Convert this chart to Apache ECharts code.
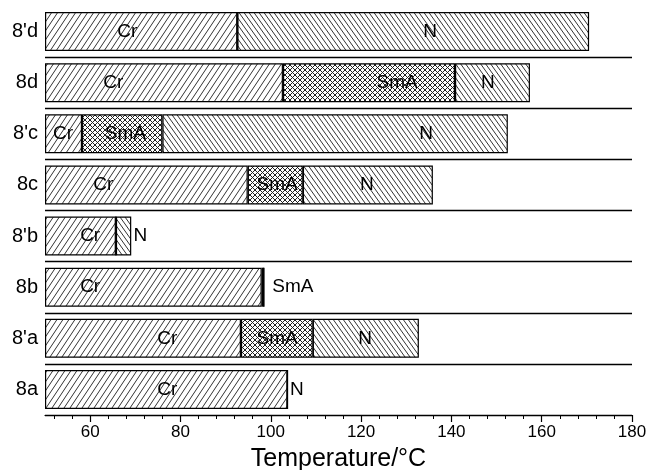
<!DOCTYPE html>
<html>
<head>
<meta charset="utf-8">
<script src="https://cdn.jsdelivr.net/npm/echarts@6/dist/echarts.min.js"></script>
<style>html,body{margin:0;padding:0;background:#fff}#c{width:647px;height:470px}</style>
</head>
<body>
<div id="c"></div>
<script>
// ---- data (bottom to top) ----
var categories = ["8a", "8'a", "8b", "8'b", "8c", "8'c", "8d", "8'd"];
var startTemp = 50;
var crEnd  = [103.7, 93.4, 98.0, 65.7, 94.9, 58.2, 102.7, 92.6];
var smaEnd = [null, 109.3, 98.5, null, 107.1, 76.0, 140.8, null];
var nEnd   = [null, 132.8, null, 69.1, 135.9, 152.5, 157.4, 170.5];
var xTicks = [60, 80, 100, 120, 140, 160, 180];
var xMinorTicks = [52, 56, 64, 68, 72, 76, 84, 88, 92, 96, 104, 108, 112, 116,
                   124, 128, 132, 136, 144, 148, 152, 156, 164, 168, 172, 176];
// phase labels: [temperature, category, text]
var phaseLabels = [
  [68.2, "8'd", "Cr"], [135.3, "8'd", "N"],
  [65.1, "8d", "Cr"], [128.0, "8d", "SmA"], [148.1, "8d", "N"],
  [54.0, "8'c", "Cr"], [67.8, "8'c", "SmA"], [134.4, "8'c", "N"],
  [62.9, "8c", "Cr"], [101.4, "8c", "SmA"], [121.3, "8c", "N"],
  [60.0, "8'b", "Cr"], [71.1, "8'b", "N"],
  [60.0, "8b", "Cr"], [104.9, "8b", "SmA"],
  [77.1, "8'a", "Cr"], [101.4, "8'a", "SmA"], [120.9, "8'a", "N"],
  [77.1, "8a", "Cr"], [105.8, "8a", "N"]
];

// ---- derived segment widths ----
var baseVals = categories.map(function(){ return startTemp; });
var crVals = crEnd.map(function(v){ return v - startTemp; });
var smaVals = smaEnd.map(function(v, i){ return v == null ? 0 : v - crEnd[i]; });
var nVals = nEnd.map(function(v, i){
  if (v == null) return 0;
  var prev = smaEnd[i] != null ? smaEnd[i] : crEnd[i];
  return v - prev;
});

// ---- hatch patterns ----
function hatch(w, h, dirs, color, lw) {
  var c = document.createElement('canvas');
  c.width = w; c.height = h;
  var g = c.getContext('2d');
  g.fillStyle = '#fff'; g.fillRect(0, 0, w, h);
  g.strokeStyle = color; g.lineWidth = lw;
  dirs.forEach(function(d){
    for (var k = -1; k <= 1; k++) {
      g.beginPath();
      if (d === '/') { g.moveTo(k * w, h); g.lineTo(k * w + w, 0); }
      else { g.moveTo(k * w, 0); g.lineTo(k * w + w, h); }
      g.stroke();
    }
  });
  return { image: c, repeat: 'repeat' };
}
var crPat = hatch(6, 9, ['/'], '#333', 1);
var nPat = hatch(5, 7, ['\\'], '#333', 1);
var smaPat = hatch(5, 5, ['/', '\\'], '#222', 1);

var font = '"Liberation Sans", Arial, Helvetica, sans-serif';
var barW = 39;
var border = { borderColor: '#000', borderWidth: 1.2 };

var chart = echarts.init(document.getElementById('c'), null, { renderer: 'canvas' });
chart.setOption({
  animation: false,
  backgroundColor: '#fff',
  grid: { left: 45, right: 15, top: 6, bottom: 55, containLabel: false, outerBoundsMode: 'none' },
  xAxis: [{
    type: 'value', min: 50, max: 180,
    axisLine: { show: true, lineStyle: { color: '#000', width: 1.2 } },
    axisTick: { show: true, length: 7, customValues: xTicks, lineStyle: { color: '#000', width: 1.2 } },
    splitLine: { show: false },
    axisLabel: { margin: 9, fontSize: 17, color: '#000', fontFamily: font, customValues: xTicks },
    name: 'Temperature/°C', nameLocation: 'middle', nameGap: 32,
    nameTextStyle: { fontSize: 25, color: '#000', fontFamily: font }
  }, {
    type: 'value', min: 50, max: 180, position: 'bottom',
    axisLine: { show: false },
    axisTick: { show: true, length: 4, customValues: xMinorTicks, lineStyle: { color: '#000', width: 1 } },
    axisLabel: { show: false },
    splitLine: { show: false }
  }],
  yAxis: {
    type: 'category', data: categories,
    axisLine: { show: false }, axisTick: { show: false },
    axisLabel: { margin: 7, fontSize: 20, color: '#000', fontFamily: font },
    splitLine: { show: true, showMaxLine: false, lineStyle: { color: '#000', width: 1.4 } }
  },
  series: [
    { type: 'bar', stack: 't', data: baseVals, barWidth: barW, itemStyle: { color: 'rgba(0,0,0,0)' }, silent: true },
    { type: 'bar', stack: 't', data: crVals, barWidth: barW, itemStyle: Object.assign({ color: crPat }, border) },
    { type: 'bar', stack: 't', data: smaVals, barWidth: barW, itemStyle: Object.assign({ color: smaPat }, border) },
    { type: 'bar', stack: 't', data: nVals, barWidth: barW, itemStyle: Object.assign({ color: nPat }, border) },
    {
      type: 'scatter', symbolSize: 1, silent: true, z: 10,
      itemStyle: { color: 'rgba(0,0,0,0)' },
      data: phaseLabels.map(function(d){ return { value: [d[0], d[1]], name: d[2] }; }),
      label: {
        show: true, position: 'inside', formatter: '{b}',
        fontSize: 19, color: '#000', fontFamily: font,
        textBorderWidth: 0, textBorderColor: 'transparent', opacity: 1
      }
    }
  ]
});
</script>
</body>
</html>
